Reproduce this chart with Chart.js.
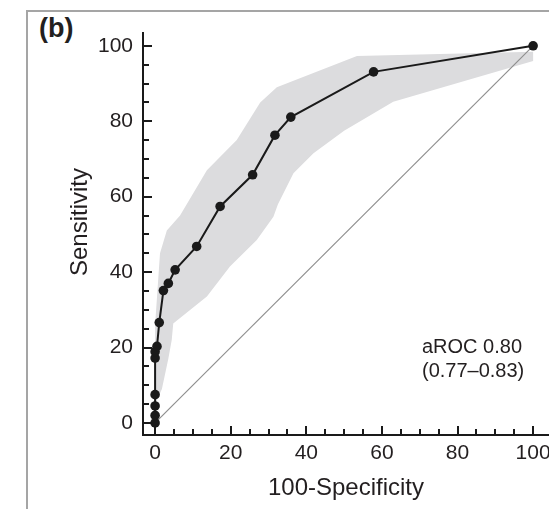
<!DOCTYPE html>
<html>
<head>
<meta charset="utf-8">
<script src="https://cdn.jsdelivr.net/npm/chart.js@4.4.1/dist/chart.umd.min.js"></script>
<style>
  html, body { margin: 0; padding: 0; background: #fff; }
  #wrap { position: relative; width: 549px; height: 509px; overflow: hidden; }
  #frame {
    position: absolute; left: 26px; top: 10px; right: -10px; bottom: -10px;
    border-top: 2px solid #a5a5a5; border-left: 2px solid #a5a5a5;
  }
  #painel {
    position: absolute; left: 39px; top: 15px;
    font: bold 27px "Liberation Sans", Arial, sans-serif; color: #231f20; line-height: 1;
  }
  canvas { position: absolute; left: 0; top: 0; }
</style>
</head>
<body>
<div id="wrap">
  <div id="frame"></div>
  <div id="painel">(b)</div>
  <canvas id="roc" width="549" height="509"></canvas>
</div>
<script>
// ----------------------------------------------------------------
// Dados
// ----------------------------------------------------------------
// curva ROC (100-especificidade x sensibilidade)
const FPR  = [0, 0, 0, 0, 0, 0, 0.5, 1.1, 2.2, 3.5, 5.3, 11, 17.2, 25.8, 31.7, 35.9, 57.8, 100];
const SENS = [0, 2, 4.5, 7.5, 17.2, 18.9, 20.3, 26.6, 35.1, 37, 40.6, 46.8, 57.4, 65.8, 76.3, 81.1, 93.1, 100];

// faixa de confiança (limite superior e inferior)
const BANDA_SUP_X = [0, 0, 1.3, 3.1, 6.6, 13.7, 21.6, 27.8, 32.2, 53.4, 100];
const BANDA_SUP_Y = [5, 26, 45, 51, 55, 67, 75, 85, 89, 97.3, 98.4];
const BANDA_INF_X = [0, 1.8, 3.5, 4.4, 4.8, 13.7, 19.8, 26.9, 31.3, 32.5, 36.6, 41.9, 50, 63, 100];
const BANDA_INF_Y = [5, 9, 17, 22, 26.4, 33.5, 41.5, 48.5, 54.7, 58, 66.2, 71.5, 77.5, 85.2, 96];

// linha de referência
const DIAG_X = [0, 100];
const DIAG_Y = [0, 100];

const TICKS_MAIORES = [0, 20, 40, 60, 80, 100];
const TICKS_MENORES = [5, 10, 15, 25, 30, 35, 45, 50, 55, 65, 70, 75, 85, 90, 95];

const TEXTO_AROC = ['aROC 0.80', '(0.77\u20130.83)'];
const TITULO_X = '100-Specificity';
const TITULO_Y = 'Sensitivity';

// ----------------------------------------------------------------
// Tema
// ----------------------------------------------------------------
const FONTE = '"Liberation Sans", Arial, Helvetica, sans-serif';
const COR_TEXTO = '#231f20';
const COR_EIXO = '#1a1a1a';
const COR_BANDA = '#dcdcde';

const pares = (xs, ys) => xs.map((x, i) => ({ x, y: ys[i] }));

const banda = pares(BANDA_SUP_X, BANDA_SUP_Y)
  .concat(pares(BANDA_INF_X, BANDA_INF_Y).reverse());

// marcas dos eixos para dentro + textos soltos
const decoracao = {
  id: 'decoracao',
  afterDraw(chart) {
    const { ctx, chartArea: a, scales: { x, y } } = chart;
    ctx.save();
    ctx.strokeStyle = COR_EIXO;
    ctx.lineWidth = 2;
    const marca = (v, len) => {
      const px = Math.round(x.getPixelForValue(v));
      const py = Math.round(y.getPixelForValue(v));
      ctx.beginPath();
      ctx.moveTo(px, a.bottom); ctx.lineTo(px, a.bottom - len);
      ctx.moveTo(a.left, py); ctx.lineTo(a.left + len, py);
      ctx.stroke();
    };
    TICKS_MAIORES.forEach(v => marca(v, 9));
    TICKS_MENORES.forEach(v => marca(v, 6));

    ctx.fillStyle = COR_TEXTO;
    ctx.font = '20px ' + FONTE;
    ctx.textAlign = 'left';
    ctx.textBaseline = 'middle';
    ctx.fillText(TEXTO_AROC[0], x.getPixelForValue(70.6), y.getPixelForValue(19.9));
    ctx.fillText(TEXTO_AROC[1], x.getPixelForValue(70.6), y.getPixelForValue(13.6));

    // título do eixo y (fora do centro do eixo, como no original)
    ctx.font = '24px ' + FONTE;
    ctx.textAlign = 'center';
    ctx.translate(80, 222);
    ctx.rotate(-Math.PI / 2);
    ctx.fillText(TITULO_Y, 0, 0);
    ctx.restore();
  },
};

const eixoBase = (min, max) => ({
  type: 'linear',
  min, max,
  border: { display: true, color: COR_EIXO, width: 2 },
  grid: { display: true, drawOnChartArea: false, drawTicks: false },
  ticks: { color: COR_TEXTO, font: { family: FONTE, size: 21 } },
  afterBuildTicks: (s) => { s.ticks = TICKS_MAIORES.map(v => ({ value: v })); },
});

const eixoX = eixoBase(-3.2, 104.2);
eixoX.ticks.padding = 6;
eixoX.title = {
  display: true, text: TITULO_X, color: COR_TEXTO,
  font: { family: FONTE, size: 24 }, padding: { top: 0, bottom: 6 },
};
eixoX.afterFit = (s) => { s.height = 74; s.paddingLeft = 0; s.paddingRight = 0; };

const eixoY = eixoBase(-3.2, 103.4);
eixoY.ticks.padding = 10;
eixoY.afterFit = (s) => { s.width = 143; s.paddingTop = 0; s.paddingBottom = 0; };

new Chart(document.getElementById('roc'), {
  type: 'line',
  data: {
    datasets: [
      {
        label: 'ROC',
        data: pares(FPR, SENS),
        borderColor: COR_EIXO,
        backgroundColor: COR_EIXO,
        borderWidth: 2,
        pointRadius: 4.8,
        pointBorderWidth: 0,
        tension: 0,
        order: 0,
      },
      {
        label: 'Referência',
        data: pares(DIAG_X, DIAG_Y),
        borderColor: '#8f8f8f',
        borderWidth: 1.2,
        pointRadius: 0,
        order: 1,
      },
      {
        label: 'IC',
        data: banda,
        borderWidth: 0,
        borderColor: 'transparent',
        backgroundColor: COR_BANDA,
        pointRadius: 0,
        fill: 'shape',
        order: 2,
      },
    ],
  },
  options: {
    responsive: false,
    animation: false,
    layout: { autoPadding: false, padding: { top: 33, right: 0, left: 0, bottom: 0 } },
    plugins: { legend: { display: false }, tooltip: { enabled: false } },
    scales: { x: eixoX, y: eixoY },
  },
  plugins: [decoracao],
});
</script>
</body>
</html>
